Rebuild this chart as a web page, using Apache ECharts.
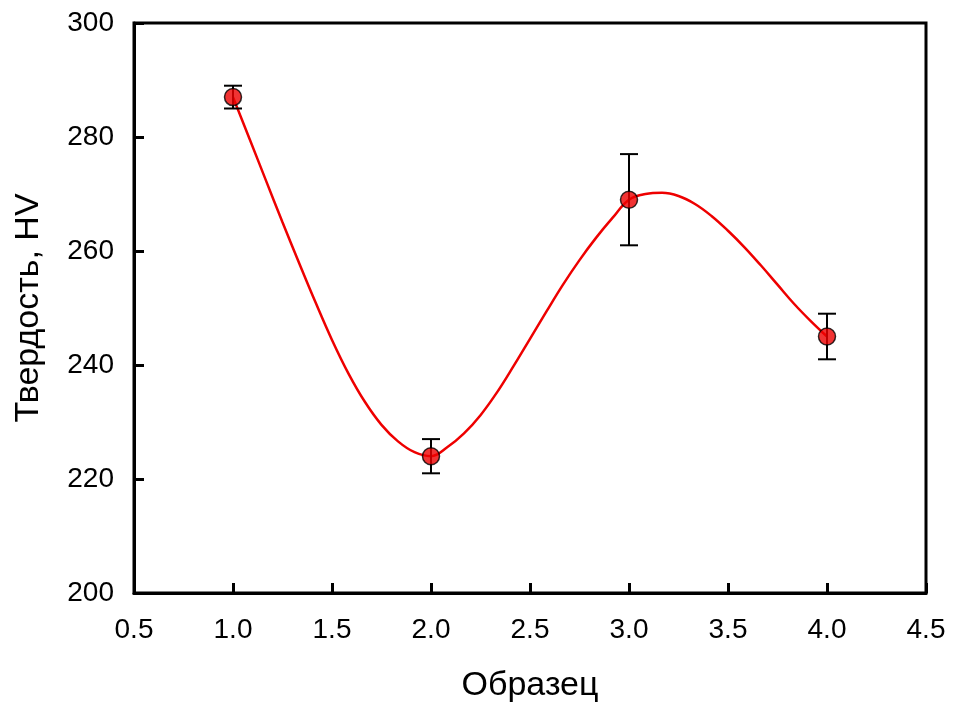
<!DOCTYPE html>
<html>
<head>
<meta charset="utf-8">
<script src="https://cdn.jsdelivr.net/npm/echarts@6/dist/echarts.min.js"></script>
<style>html,body{margin:0;padding:0;background:#fff}#c{width:954px;height:711px}</style>
</head>
<body>
<div id="c"></div>
<script>
const samples = [1, 2, 3, 4];
const hardness = [287, 224, 269, 245];
const errors = [2, 3, 8, 4];
// fitted curve (x step 1/12)
const curveX = [1.0, 1.0833, 1.1667, 1.25, 1.3333, 1.4167, 1.5, 1.5833, 1.6667, 1.75, 1.8333, 1.9167,
                2.0, 2.0833, 2.1667, 2.25, 2.3333, 2.4167, 2.5, 2.5833, 2.6667, 2.75, 2.8333, 2.9167,
                3.0, 3.0833, 3.1667, 3.25, 3.3333, 3.4167, 3.5, 3.5833, 3.6667, 3.75, 3.8333, 3.9167, 4.0];
const curveY = [287, 279.7, 272.35, 265.05, 257.95, 251.0, 244.4, 238.5, 233.5, 229.5, 226.6, 224.7,
                224, 225.6, 228.0, 231.2, 235.2, 239.8, 244.6, 249.4, 254.1, 258.4, 262.3, 265.8,
                269, 270.0, 270.2, 269.65, 268.25, 266.15, 263.55, 260.65, 257.45, 254.1, 250.75, 247.75, 245];
const xTitle = 'Образец';
const yTitle = 'Твердость, HV';

const pts = samples.map((x, i) => [x, hardness[i]]);
const curve = curveX.map((x, i) => [x, curveY[i]]);
const errData = samples.map((x, i) => [x, hardness[i] - errors[i], hardness[i] + errors[i]]);
const FONT = '"Liberation Sans", Arial, sans-serif';

const chart = echarts.init(document.getElementById('c'), null, {renderer: 'canvas'});
chart.setOption({
  animation: false,
  backgroundColor: '#fff',
  grid: {left: 134, right: 28, top: 23, bottom: 118, show: true, borderColor: '#000', borderWidth: 3, backgroundColor: 'transparent'},
  xAxis: {
    type: 'value', min: 0.5, max: 4.5, interval: 0.5,
    name: xTitle, nameLocation: 'middle', nameGap: 76,
    nameTextStyle: {fontFamily: FONT, fontSize: 34, color: '#000'},
    axisLine: {show: true, onZero: false, lineStyle: {color: '#000', width: 3}},
    axisTick: {show: true, inside: true, length: 10, lineStyle: {color: '#000', width: 3}},
    axisLabel: {fontFamily: FONT, fontSize: 28, color: '#000', margin: 23, formatter: v => v.toFixed(1)},
    splitLine: {show: false}
  },
  yAxis: {
    type: 'value', min: 200, max: 300, interval: 20,
    name: yTitle, nameLocation: 'middle', nameGap: 88, nameRotate: 90,
    nameTextStyle: {fontFamily: FONT, fontSize: 34, color: '#000'},
    axisLine: {show: true, onZero: false, lineStyle: {color: '#000', width: 3}},
    axisTick: {show: true, inside: true, length: 10, lineStyle: {color: '#000', width: 3}},
    axisLabel: {fontFamily: FONT, fontSize: 28, color: '#000', margin: 20},
    splitLine: {show: false}
  },
  series: [
    {
      type: 'line', data: curve, smooth: 0.4, symbol: 'none', z: 2,
      lineStyle: {color: '#ee0000', width: 2.5}
    },
    {
      type: 'custom', data: errData, z: 3,
      renderItem: function (params, api) {
        const x = api.value(0);
        const lo = api.coord([x, api.value(1)]);
        const hi = api.coord([x, api.value(2)]);
        const hw = 9;
        const st = {stroke: '#000', lineWidth: 2};
        return {type: 'group', children: [
          {type: 'line', shape: {x1: lo[0], y1: lo[1], x2: hi[0], y2: hi[1]}, style: st},
          {type: 'line', shape: {x1: lo[0] - hw, y1: lo[1], x2: lo[0] + hw, y2: lo[1]}, style: st},
          {type: 'line', shape: {x1: hi[0] - hw, y1: hi[1], x2: hi[0] + hw, y2: hi[1]}, style: st}
        ]};
      }
    },
    {
      type: 'scatter', data: pts, symbol: 'circle', symbolSize: 17, z: 4,
      itemStyle: {color: '#ee0000', borderColor: '#000', borderWidth: 1.5}
    }
  ]
});
</script>
</body>
</html>
